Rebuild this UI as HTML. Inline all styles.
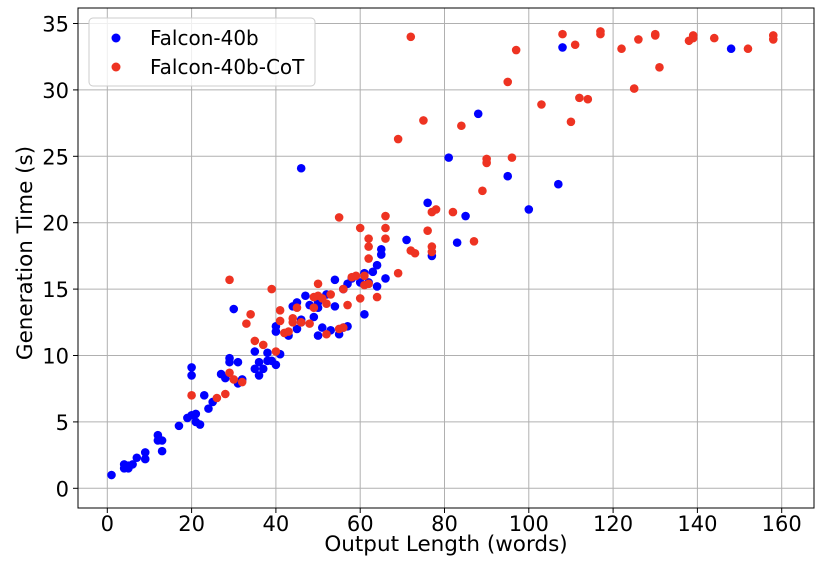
<!DOCTYPE html>
<html><head><meta charset="utf-8"><style>
body{margin:0;background:#fff}
svg{font-family:"DejaVu Sans","Liberation Sans",sans-serif}
</style></head><body>
<svg id="chart" width="830" height="562">
<g id="grid"></g><g id="pts"></g><g id="axes"></g>
<g>
<rect x="89" y="18" width="226" height="68" rx="4" fill="#fff" fill-opacity="0.8" stroke="#ccc"/>
<circle cx="116" cy="38" r="4.5" fill="#0000ff"/>
<text x="150" y="45" font-size="20">Falcon-40b</text>
<circle cx="116" cy="67" r="4.5" fill="#ee3322"/>
<text x="150" y="74" font-size="20">Falcon-40b-CoT</text>
</g>
<text x="446" y="551" font-size="21.5" text-anchor="middle">Output Length (words)</text>
<text transform="translate(32,253) rotate(-90)" font-size="21.5" text-anchor="middle">Generation Time (s)</text>
</svg>
<script>
const xTicks=[0,20,40,60,80,100,120,140,160];
const yTicks=[0,5,10,15,20,25,30,35];
const blueX=[1,4,4,5,5,6,7,9,9,12,12,13,13,17,19,20,20,20,21,21,22,23,24,25,27,28,29,29,30,31,31,32,35,35,36,36,37,38,38,39,40,40,40,41,43,44,45,45,46,46,46,47,48,49,50,50,50,51,52,53,54,54,55,56,56,57,57,58,60,61,61,62,63,64,64,65,65,66,71,76,77,81,83,85,88,95,100,107,108,148];
const blueY=[1.0,1.5,1.8,1.5,1.7,1.8,2.3,2.2,2.7,3.6,4.0,3.6,2.8,4.7,5.3,5.5,8.5,9.1,5.0,5.6,4.8,7.0,6.0,6.5,8.6,8.3,9.5,9.8,13.5,9.5,7.9,8.2,9.0,10.3,8.5,9.5,9.0,10.2,9.6,9.6,9.3,11.8,12.2,10.1,11.5,13.7,12.0,14.0,12.5,12.7,24.1,14.5,13.8,12.9,11.5,13.6,14.0,12.1,14.6,11.9,15.7,13.7,11.6,15.0,12.1,12.2,15.4,15.8,15.5,13.1,16.2,15.5,16.3,15.2,16.8,17.6,18.0,15.8,18.7,21.5,17.5,24.9,18.5,20.5,28.2,23.5,21.0,22.9,33.2,33.1];
const redX=[20,26,28,29,29,30,32,33,34,35,37,39,40,41,41,42,43,44,44,45,46,48,49,49,50,50,51,52,52,53,55,55,56,56,57,58,59,60,60,61,61,62,62,62,62,64,66,66,66,69,69,72,72,73,75,76,77,77,77,78,82,84,87,89,90,90,95,96,97,103,108,110,111,112,114,117,117,122,125,126,130,130,131,138,139,139,144,152,158,158];
const redY=[7.0,6.8,7.1,8.7,15.7,8.2,8.0,12.4,13.1,11.1,10.8,15.0,10.3,12.6,13.4,11.7,11.8,12.5,12.8,13.6,12.5,12.4,14.4,13.6,14.5,15.4,14.3,13.9,11.6,14.6,12.0,20.4,12.1,15.0,13.8,15.9,16.0,19.6,14.3,16.0,15.3,18.8,18.2,15.4,17.3,14.4,20.5,19.6,18.8,16.2,26.3,34.0,17.9,17.7,27.7,19.4,20.8,17.8,18.2,21.0,20.8,27.3,18.6,22.4,24.8,24.5,30.6,24.9,33.0,28.9,34.2,27.6,33.4,29.4,29.3,34.4,34.2,33.1,30.1,33.8,34.1,34.2,31.7,33.7,34.1,33.9,33.9,33.1,34.1,33.8];
const L=78,R=814,T=8,B=508;
const sx=v=>107.3+v*4.215;
const sy=v=>488.3-v*13.28;
const NS="http://www.w3.org/2000/svg";
const mk=(p,t,a)=>{const e=document.createElementNS(NS,t);for(const k in a)e.setAttribute(k,a[k]);p.appendChild(e);return e;};
const grid=document.getElementById('grid'),axes=document.getElementById('axes'),pts=document.getElementById('pts');
xTicks.forEach(v=>{const x=sx(v);
const g=mk(grid,'line',{x1:x,x2:x,y1:T,y2:B,stroke:'#b0b0b0','stroke-width':1});


mk(axes,'line',{x1:x,x2:x,y1:B,y2:B+5,stroke:'#000'});
const t=mk(axes,'text',{x:x,y:B+23,'font-size':21,'text-anchor':'middle'});t.textContent=v;

});
yTicks.forEach(v=>{const y=sy(v);
const g=mk(grid,'line',{x1:L,x2:R,y1:y,y2:y,stroke:'#b0b0b0','stroke-width':1});


mk(axes,'line',{x1:L-5,x2:L,y1:y,y2:y,stroke:'#000'});
const t=mk(axes,'text',{x:L-9,y:y+8,'font-size':21,'text-anchor':'end'});t.textContent=v;

});
const fr=mk(axes,'rect',{x:L,y:T,width:R-L,height:B-T,fill:'none',stroke:'#000','stroke-width':1});


blueX.forEach((v,i)=>{const c=mk(pts,'circle',{cx:sx(v),cy:sy(blueY[i]),r:4.3,fill:'#0000ff'});

});
redX.forEach((v,i)=>{const c=mk(pts,'circle',{cx:sx(v),cy:sy(redY[i]),r:4.3,fill:'#ee3322'});

});
</script>
</body></html>
